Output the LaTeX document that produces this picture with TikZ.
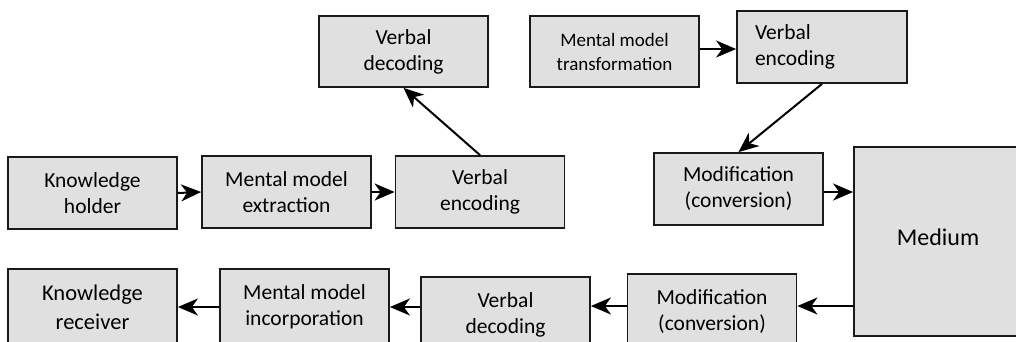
\documentclass[tikz,border=0pt]{standalone}
\usepackage{fontspec}
\setmainfont{Carlito}
\usetikzlibrary{arrows.meta,calc}
\definecolor{boxfill}{HTML}{E0E0E0}
\definecolor{boxline}{HTML}{1A1A1A}
\tikzset{
  stagebox/.style={draw=boxline, fill=boxfill, line width=1.8pt, minimum width=169pt, minimum height=72pt, inner sep=0pt, align=center, font=\fontsize{21.5}{26}\selectfont},
  conn/.style={line width=2pt, -{Stealth[length=20pt,width=17pt,inset=6pt]}}
}
\begin{document}
\begin{tikzpicture}[x=1pt,y=-1pt]
\useasboundingbox (0,0) rectangle (1016,341);
\clip (0,0) rectangle (1016,341);
% top/middle row
\node[stagebox] (holder) at (92.5,193) {Knowledge\\holder};
\node[stagebox] (extract) at (286.5,192) {Mental model\\extraction};
\node[stagebox] (venc1) at (480,192) {Verbal\\encoding};
\node[stagebox, minimum height=71pt] (vdec1) at (403.5,51.5) {Verbal\\decoding};
\node[stagebox, minimum height=71pt, font=\fontsize{19}{24}\selectfont] (transf) at (614.5,51.5) {Mental model\\transformation};
\node[stagebox, text width=134pt, inner xsep=18pt, minimum width=170pt, align=left] (venc2) at (822,47) {Verbal\\encoding};
\node[stagebox] (mod1) at (738.5,189) {Modification\\(conversion)};
\node[stagebox, minimum width=168pt, minimum height=189pt, font=\fontsize{24}{28}\selectfont] (medium) at (938,241.5) {\raisebox{9pt}{Medium}};
% bottom row
\node[stagebox, minimum height=76pt, font=\fontsize{22.5}{29}\selectfont] (recv) at (92.5,307) {Knowledge\\receiver};
\node[stagebox, minimum height=76pt] (incorp) at (304.5,307) {Mental model\\incorporation};
\node[stagebox, minimum height=76pt] (vdec2) at (505.5,315) {Verbal\\decoding};
\node[stagebox, minimum height=76pt] (mod2) at (712,312) {Modification\\(conversion)};
% connectors
\draw[conn] (holder.east) -- (extract.west);
\draw[conn] (extract.east) -- (venc1.west |- extract.east);
\draw[conn] (venc1.north) -- (vdec1.south);
\draw[conn] ([yshift=2.5pt]transf.east) -- ([yshift=2.5pt]transf.east -| venc2.west);
\draw[conn] (venc2.south) -- (mod1.north);
\draw[conn] ([yshift=-3pt]mod1.east) -- ([yshift=-3pt]mod1.east -| medium.west);
\draw[conn] ([yshift=6pt]mod2.east -| medium.west) -- ([yshift=6pt]mod2.east);
\draw[conn] ([yshift=6pt]mod2.west) -- ([yshift=6pt]mod2.west -| vdec2.east);
\draw[conn] (incorp.east -| vdec2.west) -- (incorp.east);
\draw[conn] (incorp.west) -- (recv.east);
\end{tikzpicture}
\end{document}
